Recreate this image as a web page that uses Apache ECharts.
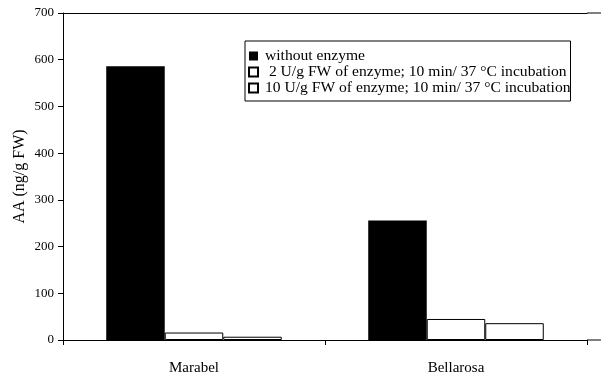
<!DOCTYPE html>
<html>
<head>
<meta charset="utf-8">
<script src="https://cdn.jsdelivr.net/npm/echarts@6/dist/echarts.min.js"></script>
<style>html,body{margin:0;padding:0;background:#fff}#c{width:601px;height:376px}</style>
</head>
<body>
<div id="c"></div>
<script>
const categories = ['Marabel', 'Bellarosa'];
const seriesNames = ['without enzyme', ' 2 U/g FW of enzyme; 10 min/ 37 °C incubation', '10 U/g FW of enzyme; 10 min/ 37 °C incubation'];
const withoutEnzyme = [586, 256];
const enzyme2U = [16, 45];
const enzyme10U = [7, 36];
const yTicks = [0, 100, 200, 300, 400, 500, 600, 700];

const FONT = '"Liberation Serif", "Times New Roman", serif';
const chart = echarts.init(document.getElementById('c'));
const whiteStyle = { color: '#fff', borderColor: '#000', borderWidth: 1 };
chart.setOption({
  animation: false,
  textStyle: { fontFamily: FONT, color: '#000' },
  grid: { left: 63, top: 13, width: 524, height: 328, containLabel: false },
  legend: {
    orient: 'vertical', left: 245, top: 41,
    icon: 'rect',
    itemWidth: 9, itemHeight: 9, itemGap: 0,
    padding: [7, 0, 5, 3],
    borderColor: '#000', borderWidth: 1, backgroundColor: '#fff',
    textStyle: { fontFamily: FONT, fontSize: 15.6, color: '#000', padding: [0, 0, 0, 2] },
    data: seriesNames
  },
  xAxis: [{
    type: 'category', data: categories,
    axisLine: { lineStyle: { color: '#000', width: 1 } },
    axisTick: { show: true, length: 5, lineStyle: { color: '#000' } },
    axisLabel: { fontFamily: FONT, fontSize: 15, color: '#000', margin: 21 }
  }, {
    type: 'category', data: categories, position: 'top',
    axisLine: { show: true, lineStyle: { color: '#000', width: 1 } },
    axisTick: { show: false }, axisLabel: { show: false }
  }],
  yAxis: {
    type: 'value', min: yTicks[0], max: yTicks[yTicks.length - 1], interval: 100,
    name: 'AA (ng/g FW)', nameLocation: 'middle', nameGap: 35, nameMoveOverlap: false,
    nameTextStyle: { fontFamily: FONT, fontSize: 16, color: '#000' },
    axisLine: { show: true, lineStyle: { color: '#000', width: 1 } },
    axisTick: { show: true, length: 5, lineStyle: { color: '#000' } },
    axisLabel: { fontFamily: FONT, fontSize: 13, color: '#000', margin: 9 },
    splitLine: { show: false }
  },
  series: [
    { name: seriesNames[0], type: 'bar', data: withoutEnzyme, barGap: '0%', barCategoryGap: '33%', itemStyle: { color: '#000' } },
    { name: seriesNames[1], type: 'bar', data: enzyme2U, barGap: '0%', barCategoryGap: '33%', itemStyle: whiteStyle },
    { name: seriesNames[2], type: 'bar', data: enzyme10U, barGap: '0%', barCategoryGap: '33%', itemStyle: whiteStyle }
  ]
});
// extend the frame lines to the right edge (chart is cropped in the reference)
const rightX = 63 + 524;
const y0 = chart.convertToPixel({ yAxisIndex: 0 }, yTicks[0]);
const yTop = chart.convertToPixel({ yAxisIndex: 0 }, yTicks[yTicks.length - 1]);
chart.setOption({
  graphic: [
    { type: 'line', shape: { x1: rightX, y1: y0, x2: 601, y2: y0 }, style: { stroke: '#000', lineWidth: 1 } },
    { type: 'line', shape: { x1: rightX, y1: yTop, x2: 601, y2: yTop }, style: { stroke: '#000', lineWidth: 1 } }
  ]
});
</script>
</body>
</html>
